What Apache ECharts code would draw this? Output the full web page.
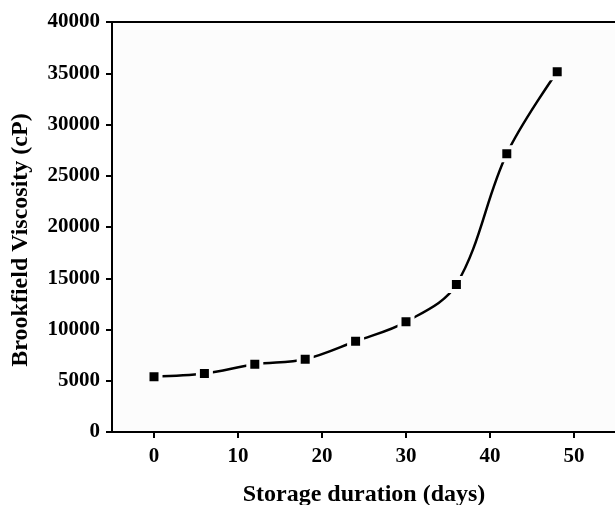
<!DOCTYPE html>
<html><head><meta charset="utf-8">
<script src="https://cdn.jsdelivr.net/npm/echarts@6/dist/echarts.min.js"></script>
<style>html,body{margin:0;padding:0;background:#fff}#c{width:615px;height:505px}</style>
</head><body><div id="c"></div>
<script>
const days = [0, 6, 12, 18, 24, 30, 36, 42, 48];
const viscosity = [5400, 5700, 6600, 7100, 8850, 10750, 14400, 27150, 35150];
const xTicks = [0, 10, 20, 30, 40, 50];
const yTicks = [0, 5000, 10000, 15000, 20000, 25000, 30000, 35000, 40000];

const font = '"Liberation Serif","Times New Roman",serif';
const chart = echarts.init(document.getElementById('c'), null, {renderer: 'canvas'});
chart.setOption({
  backgroundColor: '#ffffff',
  animation: false,
  grid: {left: 112, top: 22, right: -1, bottom: 73, outerBoundsMode: 'none', containLabel: false,
    show: true, borderColor: '#000', borderWidth: 2, backgroundColor: '#fcfcfc'},
  xAxis: {
    type: 'value', min: -5, max: 55, interval: 5,
    name: 'Storage duration (days)', nameLocation: 'middle', nameGap: 51,
    nameTextStyle: {fontFamily: font, fontWeight: 'bold', fontSize: 24, color: '#000'},
    axisLine: {onZero: false, lineStyle: {color: '#000', width: 2}},
    axisTick: {show: true, length: 6, lineStyle: {color: '#000', width: 2}, customValues: xTicks},
    axisLabel: {fontFamily: font, fontWeight: 'bold', fontSize: 21, color: '#000', margin: 14, customValues: xTicks,
      formatter: v => String(v)},
    splitLine: {show: false}
  },
  yAxis: {
    type: 'value', min: 0, max: 40000, interval: 5000,
    name: 'Brookfield Viscosity (cP)', nameLocation: 'middle', nameGap: 79,
    nameTextStyle: {fontFamily: font, fontWeight: 'bold', fontSize: 24, color: '#000', padding: [0, 26, 0, 0]},
    axisLine: {show: true, onZero: false, lineStyle: {color: '#000', width: 2}},
    axisTick: {show: true, length: 6, lineStyle: {color: '#000', width: 2}},
    axisLabel: {fontFamily: font, fontWeight: 'bold', fontSize: 21, color: '#000', margin: 12, customValues: yTicks,
      formatter: v => String(v)},
    splitLine: {show: false}
  },
  series: [{
    type: 'line',
    data: days.map((d, i) => [d, viscosity[i]]),
    smooth: 0.35,
    symbol: 'rect', symbolSize: 13,
    lineStyle: {color: '#000', width: 2.5},
    itemStyle: {color: '#000', borderColor: '#fcfcfc', borderWidth: 4}
  }]
});
</script></body></html>
